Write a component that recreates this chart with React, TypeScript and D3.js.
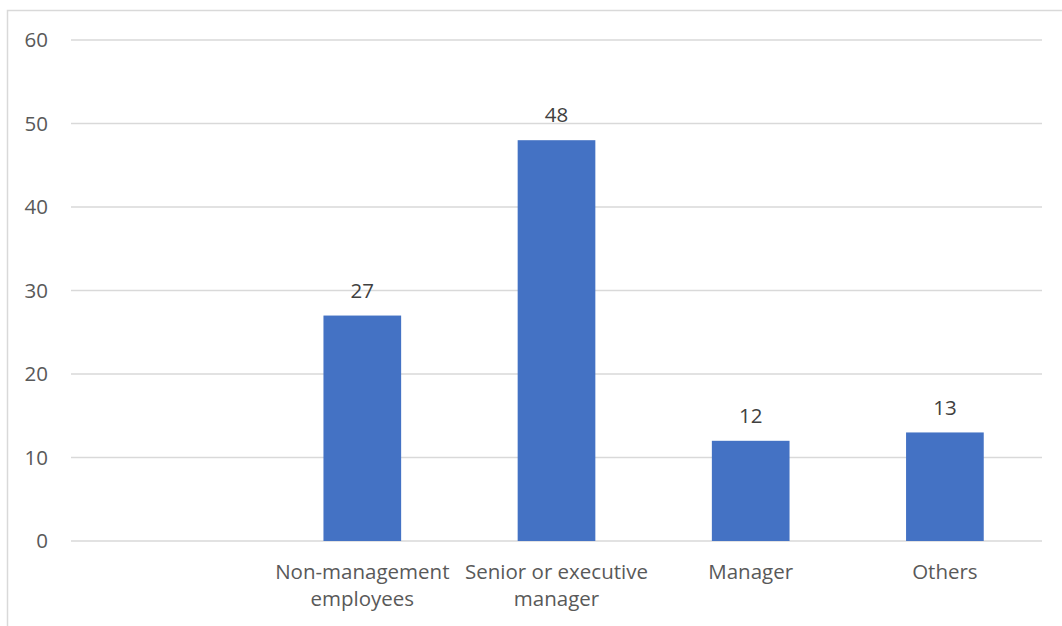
import { useEffect, useRef } from 'react';
import * as d3 from 'd3';

const categories = ['', 'Non-management employees', 'Senior or executive manager', 'Manager', 'Others'];
const values: (number | null)[] = [null, 27, 48, 12, 13];
const yTicks = [0, 10, 20, 30, 40, 50, 60];

const W = 1062;
const H = 626;

const App = () => {
  const ref = useRef<SVGSVGElement>(null);

  useEffect(() => {
    document.body.style.margin = '0';
    const svg = d3.select(ref.current);
    svg.selectAll('*').remove();

    const font = '"Open Sans", sans-serif';
    const fs = '20.5px';
    const textColor = '#595959';
    const left = 71, right = 1042, top = 40, bottom = 541;

    const x = d3.scaleBand<string>()
      .domain(categories.map((c, i) => String(i)))
      .range([left, right])
      .paddingInner(0.6)
      .paddingOuter(0.3);

    const y = d3.scaleLinear().domain([0, 60]).range([bottom, top]);

    // chart border (runs off the right/bottom edge like the screenshot)
    svg.append('rect')
      .attr('x', 7.5).attr('y', 10.5)
      .attr('width', W + 20).attr('height', H + 20)
      .attr('fill', 'none').attr('stroke', '#d9d9d9').attr('stroke-width', 1.5);

    svg.append('g')
      .selectAll('line')
      .data(yTicks)
      .enter()
      .append('line')
      .attr('x1', left).attr('x2', right)
      .attr('y1', d => y(d)).attr('y2', d => y(d))
      .attr('stroke', '#d9d9d9').attr('stroke-width', 1.3);

    svg.append('g')
      .selectAll('text')
      .data(yTicks)
      .enter()
      .append('text')
      .attr('x', 48)
      .attr('y', d => y(d))
      .attr('dy', '0.35em')
      .attr('text-anchor', 'end')
      .style('font-family', font)
      .style('font-size', fs)
      .attr('fill', textColor)
      .text(d => d);

    const rows = categories.map((c, i) => ({ c, i, v: values[i] }));

    svg.append('g')
      .selectAll('rect')
      .data(rows.filter(d => d.v != null))
      .enter()
      .append('rect')
      .attr('x', d => x(String(d.i))!)
      .attr('width', x.bandwidth())
      .attr('y', d => y(d.v as number))
      .attr('height', d => bottom - y(d.v as number))
      .attr('fill', '#4472C4');

    svg.append('g')
      .selectAll('text')
      .data(rows.filter(d => d.v != null))
      .enter()
      .append('text')
      .attr('x', d => x(String(d.i))! + x.bandwidth() / 2)
      .attr('y', d => y(d.v as number) - 25)
      .attr('dy', '0.35em')
      .attr('text-anchor', 'middle')
      .style('font-family', font)
      .style('font-size', fs)
      .attr('fill', '#404040')
      .text(d => String(d.v));

    // category labels, wrapped to the band step
    const maxW = x.step() - 4;
    rows.forEach(d => {
      if (!d.c) return;
      const cx = x(String(d.i))! + x.bandwidth() / 2;
      const t = svg.append('text')
        .attr('text-anchor', 'middle')
        .style('font-family', font)
        .style('font-size', fs)
        .attr('fill', textColor);
      const words = d.c.split(' ');
      const lines: string[] = [];
      let cur = '';
      words.forEach(w => {
        const test = cur ? cur + ' ' + w : w;
        t.text(test);
        if (cur && (t.node() as SVGTextElement).getComputedTextLength() > maxW) {
          lines.push(cur);
          cur = w;
        } else cur = test;
      });
      lines.push(cur);
      t.text(null);
      lines.forEach((ln, k) => {
        t.append('tspan')
          .attr('x', cx)
          .attr('y', 572 + k * 27)
          .attr('dy', '0.35em')
          .text(ln);
      });
    });
  }, []);

  return <svg ref={ref} width={W} height={H} style={{ display: 'block' }} />;
};

export default App;
